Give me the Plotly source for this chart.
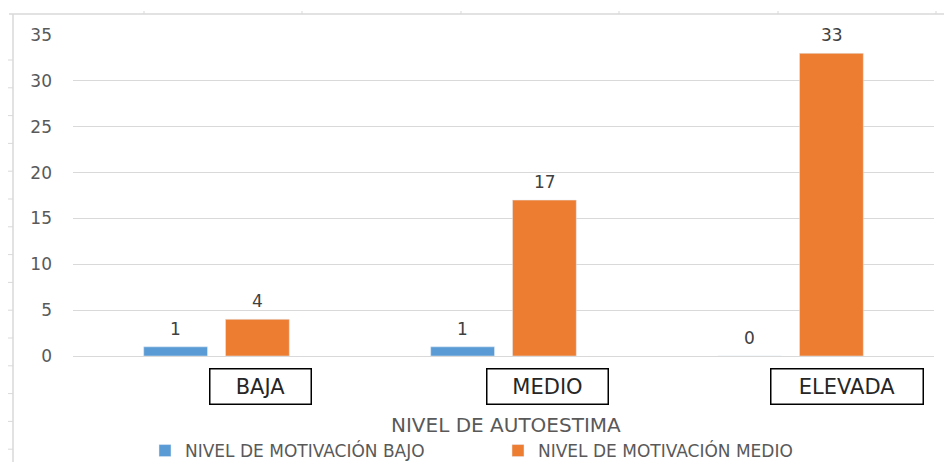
import plotly.graph_objects as go

categories = ["BAJA", "MEDIO", "ELEVADA"]
bajo = [1, 1, 0]
medio = [4, 17, 33]
series_names = ["NIVEL DE MOTIVACIÓN BAJO", "NIVEL DE MOTIVACIÓN MEDIO"]
x_title = "NIVEL DE AUTOESTIMA"
y_ticks = [0, 5, 10, 15, 20, 25, 30, 35]

BLUE = "#5B9BD5"
ORANGE = "#ED7D31"
GRID = "#D9D9D9"
TXT = "#595959"
FONT = "DejaVu Sans"

# page has an 8px body margin; figure is sized to fit the 952x470 window exactly
OFF = 8
W, H = 952 - 2 * OFF, 470 - 2 * OFF
PLOT_X0, PLOT_X1, PLOT_Y0, PLOT_Y1 = 73, 934, 35, 356  # reference pixel positions
L, R = PLOT_X0 - OFF, W - (PLOT_X1 - OFF)
T, B = PLOT_Y0 - OFF, H - (PLOT_Y1 - OFF)
pw, ph = PLOT_X1 - PLOT_X0, PLOT_Y1 - PLOT_Y0

def px2x(px):
    return (px - PLOT_X0) / pw

def py2y(py):
    return (PLOT_Y1 - py) / ph

fig = go.Figure()
fig.add_trace(go.Bar(x=categories, y=bajo, name=series_names[0], marker_color=BLUE))
fig.add_trace(go.Bar(x=categories, y=medio, name=series_names[1], marker_color=ORANGE))

annotations = []
# data labels
slot = 41
for vals, sh in ((bajo, -slot), (medio, slot)):
    for c, v in zip(categories, vals):
        annotations.append(dict(x=c, y=v, xref="x", yref="y", text=str(v), showarrow=False,
                                xshift=sh, yshift=6, yanchor="bottom",
                                font=dict(family=FONT, size=17, color="#404040")))
# boxed category labels
box_shift = [44, 44, 56]
box_w = [100, 120, 151]
for c, s, bw in zip(categories, box_shift, box_w):
    annotations.append(dict(x=c, y=py2y(387), xref="x", yref="paper", text=c, showarrow=False,
                            xshift=s, yanchor="middle", width=bw, height=34, borderpad=0,
                            bordercolor="#000000", borderwidth=1.5, bgcolor="white",
                            font=dict(family=FONT, size=21, color="#262626")))
# axis title
annotations.append(dict(x=px2x(506), y=py2y(425), xref="paper", yref="paper", text=x_title,
                        showarrow=False, yanchor="middle",
                        font=dict(family=FONT, size=20, color=TXT)))

shapes = []
line_c = "#D9D9D9"
shapes.append(dict(type="line", xref="paper", yref="paper", x0=px2x(9), x1=px2x(960),
                   y0=py2y(14), y1=py2y(14), line=dict(color=line_c, width=1.5)))
shapes.append(dict(type="line", xref="paper", yref="paper", x0=px2x(13), x1=px2x(13),
                   y0=py2y(14), y1=py2y(480), line=dict(color=line_c, width=1.5)))
for tx in [144, 302, 461, 619, 778, 936]:
    shapes.append(dict(type="line", xref="paper", yref="paper", x0=px2x(tx), x1=px2x(tx),
                       y0=py2y(11), y1=py2y(14), line=dict(color=line_c, width=1)))
ty = 60.0
while ty < 470:
    shapes.append(dict(type="line", xref="paper", yref="paper", x0=px2x(8), x1=px2x(13),
                       y0=py2y(ty), y1=py2y(ty), line=dict(color=line_c, width=1)))
    ty += 27.8

fig.update_layout(
    width=W, height=H,
    margin=dict(l=L, r=R, t=T, b=B, pad=0, autoexpand=False),
    paper_bgcolor="white", plot_bgcolor="white",
    barmode="group", bargap=0.43, bargroupgap=0.22,
    font=dict(family=FONT, color=TXT),
    showlegend=True,
    legend=dict(orientation="h", x=px2x(145), xanchor="left", y=py2y(451), yanchor="middle",
                font=dict(family=FONT, size=17, color=TXT), traceorder="normal",
                itemwidth=30, entrywidth=308, bgcolor="rgba(0,0,0,0)"),
    annotations=annotations,
    shapes=shapes,
)
fig.update_xaxes(showticklabels=False, showgrid=False, zeroline=False, showline=False, ticks="")
fig.update_yaxes(range=[0, 35], tickvals=y_ticks, showgrid=True, gridcolor=GRID, gridwidth=1,
                 zeroline=True, zerolinecolor=GRID, zerolinewidth=1, showline=False,
                 ticks="", ticklabelstandoff=20,
                 tickfont=dict(family=FONT, size=17, color=TXT))

fig.write_html("out.html", config={"displayModeBar": False})
